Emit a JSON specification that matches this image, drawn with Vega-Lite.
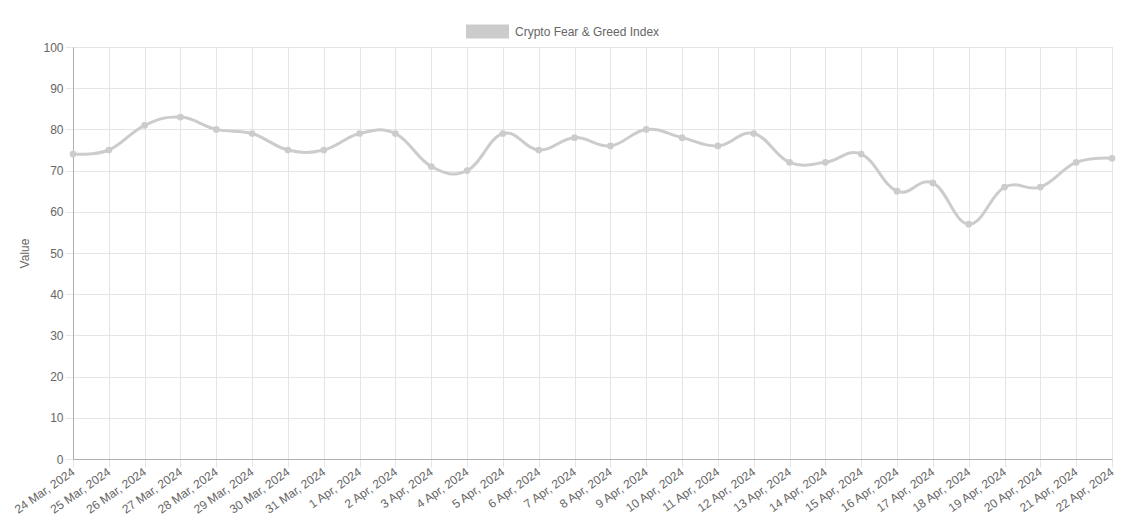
{
  "$schema": "https://vega.github.io/schema/vega-lite/v6.json",
  "width": 1039,
  "height": 412,
  "autosize": {"type": "none"},
  "padding": {"left": 73, "top": 47, "right": 16, "bottom": 67},
  "background": "white",
  "data": {
    "values": [
      {"date": "24 Mar, 2024", "value": 74},
      {"date": "25 Mar, 2024", "value": 75},
      {"date": "26 Mar, 2024", "value": 81},
      {"date": "27 Mar, 2024", "value": 83},
      {"date": "28 Mar, 2024", "value": 80},
      {"date": "29 Mar, 2024", "value": 79},
      {"date": "30 Mar, 2024", "value": 75},
      {"date": "31 Mar, 2024", "value": 75},
      {"date": "1 Apr, 2024", "value": 79},
      {"date": "2 Apr, 2024", "value": 79},
      {"date": "3 Apr, 2024", "value": 71},
      {"date": "4 Apr, 2024", "value": 70},
      {"date": "5 Apr, 2024", "value": 79},
      {"date": "6 Apr, 2024", "value": 75},
      {"date": "7 Apr, 2024", "value": 78},
      {"date": "8 Apr, 2024", "value": 76},
      {"date": "9 Apr, 2024", "value": 80},
      {"date": "10 Apr, 2024", "value": 78},
      {"date": "11 Apr, 2024", "value": 76},
      {"date": "12 Apr, 2024", "value": 79},
      {"date": "13 Apr, 2024", "value": 72},
      {"date": "14 Apr, 2024", "value": 72},
      {"date": "15 Apr, 2024", "value": 74},
      {"date": "16 Apr, 2024", "value": 65},
      {"date": "17 Apr, 2024", "value": 67},
      {"date": "18 Apr, 2024", "value": 57},
      {"date": "19 Apr, 2024", "value": 66},
      {"date": "20 Apr, 2024", "value": 66},
      {"date": "21 Apr, 2024", "value": 72},
      {"date": "22 Apr, 2024", "value": 73}
    ]
  },
  "encoding": {
    "x": {
      "field": "date",
      "type": "nominal",
      "sort": null,
      "title": null,
      "scale": {"type": "point", "padding": 0},
      "axis": {
        "labelAngle": -35,
        "labelAlign": "right",
        "labelBaseline": "top",
        "labelPadding": -1,
        "labelOffset": -3,
        "tickSize": 8,
        "labelOverlap": false
      }
    },
    "y": {
      "field": "value",
      "type": "quantitative",
      "title": "Value",
      "scale": {"domain": [0, 100], "nice": false},
      "axis": {"values": [0, 10, 20, 30, 40, 50, 60, 70, 80, 90, 100], "tickSize": 8, "labelPadding": 2, "titlePadding": 11}
    },
    "color": {
      "datum": "Crypto Fear & Greed Index",
      "type": "nominal",
      "scale": {"range": ["#cccccc"]},
      "legend": {
        "title": null,
        "orient": "none",
        "legendX": 393,
        "legendY": -37,
        "symbolType": "M-1,-0.326H1V0.326H-1Z",
        "symbolSize": 1849,
        "symbolStrokeWidth": 0,
        "symbolFillColor": "#cccccc",
        "labelFontSize": 12,
        "labelColor": "#666666",
        "labelFont": "Liberation Sans",
        "labelOffset": 6
      }
    }
  },
  "layer": [
    {
      "mark": {"type": "line", "interpolate": "cardinal", "tension": -0.2, "strokeWidth": 3}
    },
    {
      "mark": {"type": "point", "filled": true, "opacity": 1, "size": 45}
    }
  ],
  "config": {
    "view": {"stroke": "#e5e5e5"},
    "font": "Liberation Sans",
    "axis": {
      "labelFont": "Liberation Sans",
      "labelFontSize": 12,
      "labelColor": "#666666",
      "titleFont": "Liberation Sans",
      "titleFontSize": 12,
      "titleFontWeight": "normal",
      "titleColor": "#666666",
      "gridColor": "#e5e5e5",
      "tickColor": "#e5e5e5",
      "domainColor": "#b0b0b0",
      "grid": true
    }
  }
}
